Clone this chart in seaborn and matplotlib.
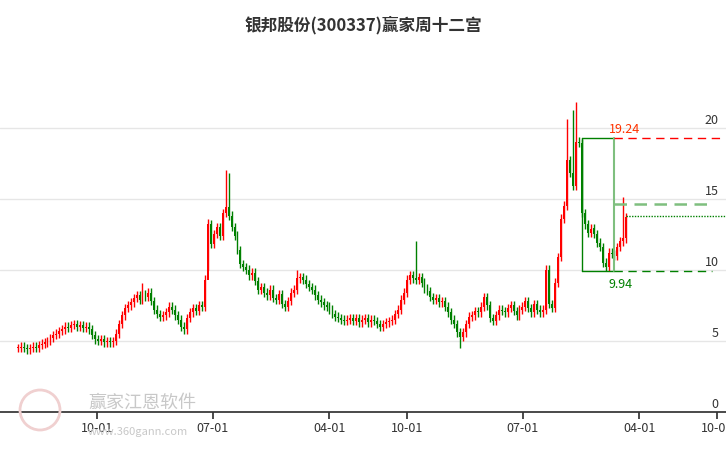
import pandas as pd
import seaborn as sns
import matplotlib.pyplot as plt
import matplotlib.dates as mdates
import matplotlib.patches as mpatches
from matplotlib.transforms import blended_transform_factory

title = "银邦股份(300337)赢家周十二宫"
start_date = "2022-03-28"

# weekly closes
closes = [
    4.5, 4.6, 4.5, 4.4, 4.5, 4.6, 4.5, 4.7, 4.8, 4.9,
    5.0, 5.2, 5.4, 5.5, 5.7, 5.8, 6.0, 5.9, 6.1, 6.2, 6.0, 6.1, 5.9, 6.0, 5.8,
    5.4, 5.1, 5.0, 5.1, 4.9, 5.0, 4.9, 5.0,
    5.5, 6.2, 6.8, 7.3, 7.5, 7.7,
    8.0, 8.2, 7.9, 8.3, 8.1, 8.4,
    7.8, 7.2, 6.9, 6.7, 6.8,
    7.0, 7.4, 7.2, 6.8, 6.5, 6.0,
    5.8, 6.6, 7.0, 7.3, 7.1, 7.5,
    7.4, 9.3, 13.2,
    11.8, 12.5, 13.0, 12.4, 14.0, 14.4,
    13.8, 13.0, 12.4, 11.4, 10.4, 10.2,
    10.0, 9.6, 9.8, 9.2, 8.6, 8.8,
    8.4, 8.2, 8.6, 8.0, 7.9, 8.3, 7.6, 7.4, 7.8,
    8.4, 8.6, 9.4, 9.5, 9.3,
    9.0, 8.8, 8.6, 8.2, 7.9, 7.7, 7.5, 7.4, 7.2,
    6.9, 6.7, 6.6, 6.5, 6.4, 6.5, 6.6, 6.4, 6.6, 6.3, 6.5, 6.6, 6.3, 6.5, 6.4,
    6.2, 6.0, 6.2, 6.3, 6.4, 6.5, 6.9,
    7.2, 7.9, 8.4, 9.3,
    9.6, 9.4, 9.3, 9.5, 9.1,
    8.7, 8.5, 8.1, 7.9, 8.0, 7.7, 7.8, 7.4, 7.0,
    6.5, 6.2, 5.6, 5.3,
    5.6, 6.2, 6.7, 6.8, 7.1, 7.0, 7.4,
    8.1, 7.5, 6.6, 6.4, 6.8, 7.2, 7.1,
    7.0, 7.3, 7.5, 7.1, 6.8, 7.2, 7.4, 7.8, 7.3,
    7.0, 7.6, 7.2, 7.0,
    7.2, 10.0, 7.6, 7.3, 9.1, 10.9,
    13.6, 14.5, 17.7, 16.8, 15.9, 19.0, 18.9, 14.0,
    13.2, 12.6, 12.9, 12.5, 11.9, 11.6,
    10.5, 10.2, 11.2, 11.1,
    11.0, 11.6, 12.0, 12.2, 13.7,
]
# notable wick extremes (week index -> price)
spike_highs = {42: 9.1, 64: 13.6, 70: 17.0, 71: 16.8, 94: 10.0, 134: 12.0,
               185: 20.6, 187: 21.2, 188: 21.8, 204: 15.1}
spike_lows = {149: 4.5, 198: 9.94, 64: 10.0}

box_high = 19.24
box_low = 9.94
mid_level = 14.6
last_level = 13.8

sns.set_theme(style="white")
plt.rcParams["font.family"] = ["Noto Sans CJK SC", "DejaVu Sans"]

dates = pd.date_range(start_date, periods=len(closes), freq="7D")
df = pd.DataFrame({"date": dates, "close": closes})
df["open"] = df["close"].shift(1).fillna(df["close"].iloc[0])
df["high"] = df[["open", "close"]].max(axis=1) + 0.3
df["low"] = df[["open", "close"]].min(axis=1) - 0.3
for i, v in spike_highs.items():
    df.loc[i, "high"] = v
for i, v in spike_lows.items():
    df.loc[i, "low"] = v

fig = plt.figure(figsize=(7.26, 4.5), dpi=100)
ax = fig.add_axes([0, 38 / 450, 1, 367 / 450])

up = df["close"] >= df["open"]
for mask, color in [(up, "#ff0000"), (~up, "#008000")]:
    d = df[mask]
    ax.vlines(d["date"], d["low"], d["high"], color=color, lw=1)
    ax.bar(d["date"], (d["close"] - d["open"]).abs().clip(lower=0.08),
           bottom=d[["open", "close"]].min(axis=1), width=4.5, color=color, lw=0)

# twelve palaces box and levels
i_top = 190
i_right = 201
x0, x1 = df["date"][i_top], df["date"][i_right]
ax.plot([x0, x1], [box_high, box_high], color="#008000", lw=1)
ax.plot([x0, x1], [box_low, box_low], color="#008000", lw=1)
ax.plot([x0, x0], [box_low, box_high], color="#008000", lw=1)
ax.plot([x1, x1], [box_low, box_high], color="#7fbf7f", lw=1.5)
xe = pd.Timestamp("2026-10-20")
ax.plot([x1, xe], [box_high, box_high], color="#ff0000", lw=1, ls=(0, (6, 4)))
ax.plot([x1, pd.Timestamp("2026-09-20")], [box_low, box_low], color="#008000", lw=1, ls=(0, (6, 4)))
ax.plot([x1, pd.Timestamp("2026-09-20")], [mid_level, mid_level], color="#7fbf7f", lw=1.8, ls=(0, (5, 3)))
ax.plot([df["date"].iloc[-1], xe], [last_level, last_level], color="#008000", lw=1, ls=(0, (1, 1)))
ax.text(pd.Timestamp("2026-01-20"), box_high + 0.35, "19.24", color="#ff3300", fontsize=9)
ax.text(pd.Timestamp("2026-01-20"), box_low - 0.5, "9.94", color="#008000", fontsize=9, va="top")

ax.set_xlim(pd.Timestamp("2022-02-14"), pd.Timestamp("2026-10-23"))
ax.set_ylim(0, 25.8)
for lv in [5, 10, 15, 20]:
    ax.axhline(lv, color="#e6e6e6", lw=1, zorder=0)
tr = blended_transform_factory(ax.transAxes, ax.transData)
for lv in [0, 5, 10, 15, 20]:
    ax.text(0.99, lv + 0.05, str(lv), transform=tr, ha="right", va="bottom",
            fontsize=9, color="#333333")
ax.set_yticks([])

ticks = pd.to_datetime(["2022-10-01", "2023-07-01", "2024-04-01", "2024-10-01",
                        "2025-07-01", "2026-04-01", "2026-10-01"])
ax.set_xticks(ticks)
ax.xaxis.set_major_formatter(mdates.DateFormatter("%m-%d"))
ax.tick_params(axis="x", length=5, color="#333333", labelsize=9, labelcolor="#333333", pad=2, bottom=True)
for s in ["top", "right", "left"]:
    ax.spines[s].set_visible(False)
ax.spines["bottom"].set_color("#333333")

fig.text(0.5, 0.945, title, ha="center", va="center", fontsize=12, fontweight="bold", color="#333333")

# watermark
fig.patches.append(mpatches.Ellipse((40 / 726, 40 / 450), 40 / 726, 40 / 450,
                                    transform=fig.transFigure, fill=False, ec="#f0d0d0", lw=2))
fig.text(88 / 726, 1 - 403 / 450, "赢家江恩软件", fontsize=13, color="#c8c8c8", va="center")
fig.text(88 / 726, 1 - 432 / 450, "www.360gann.com", fontsize=8, color="#c8c8c8", va="center")

fig.savefig("out.png", dpi=100)
